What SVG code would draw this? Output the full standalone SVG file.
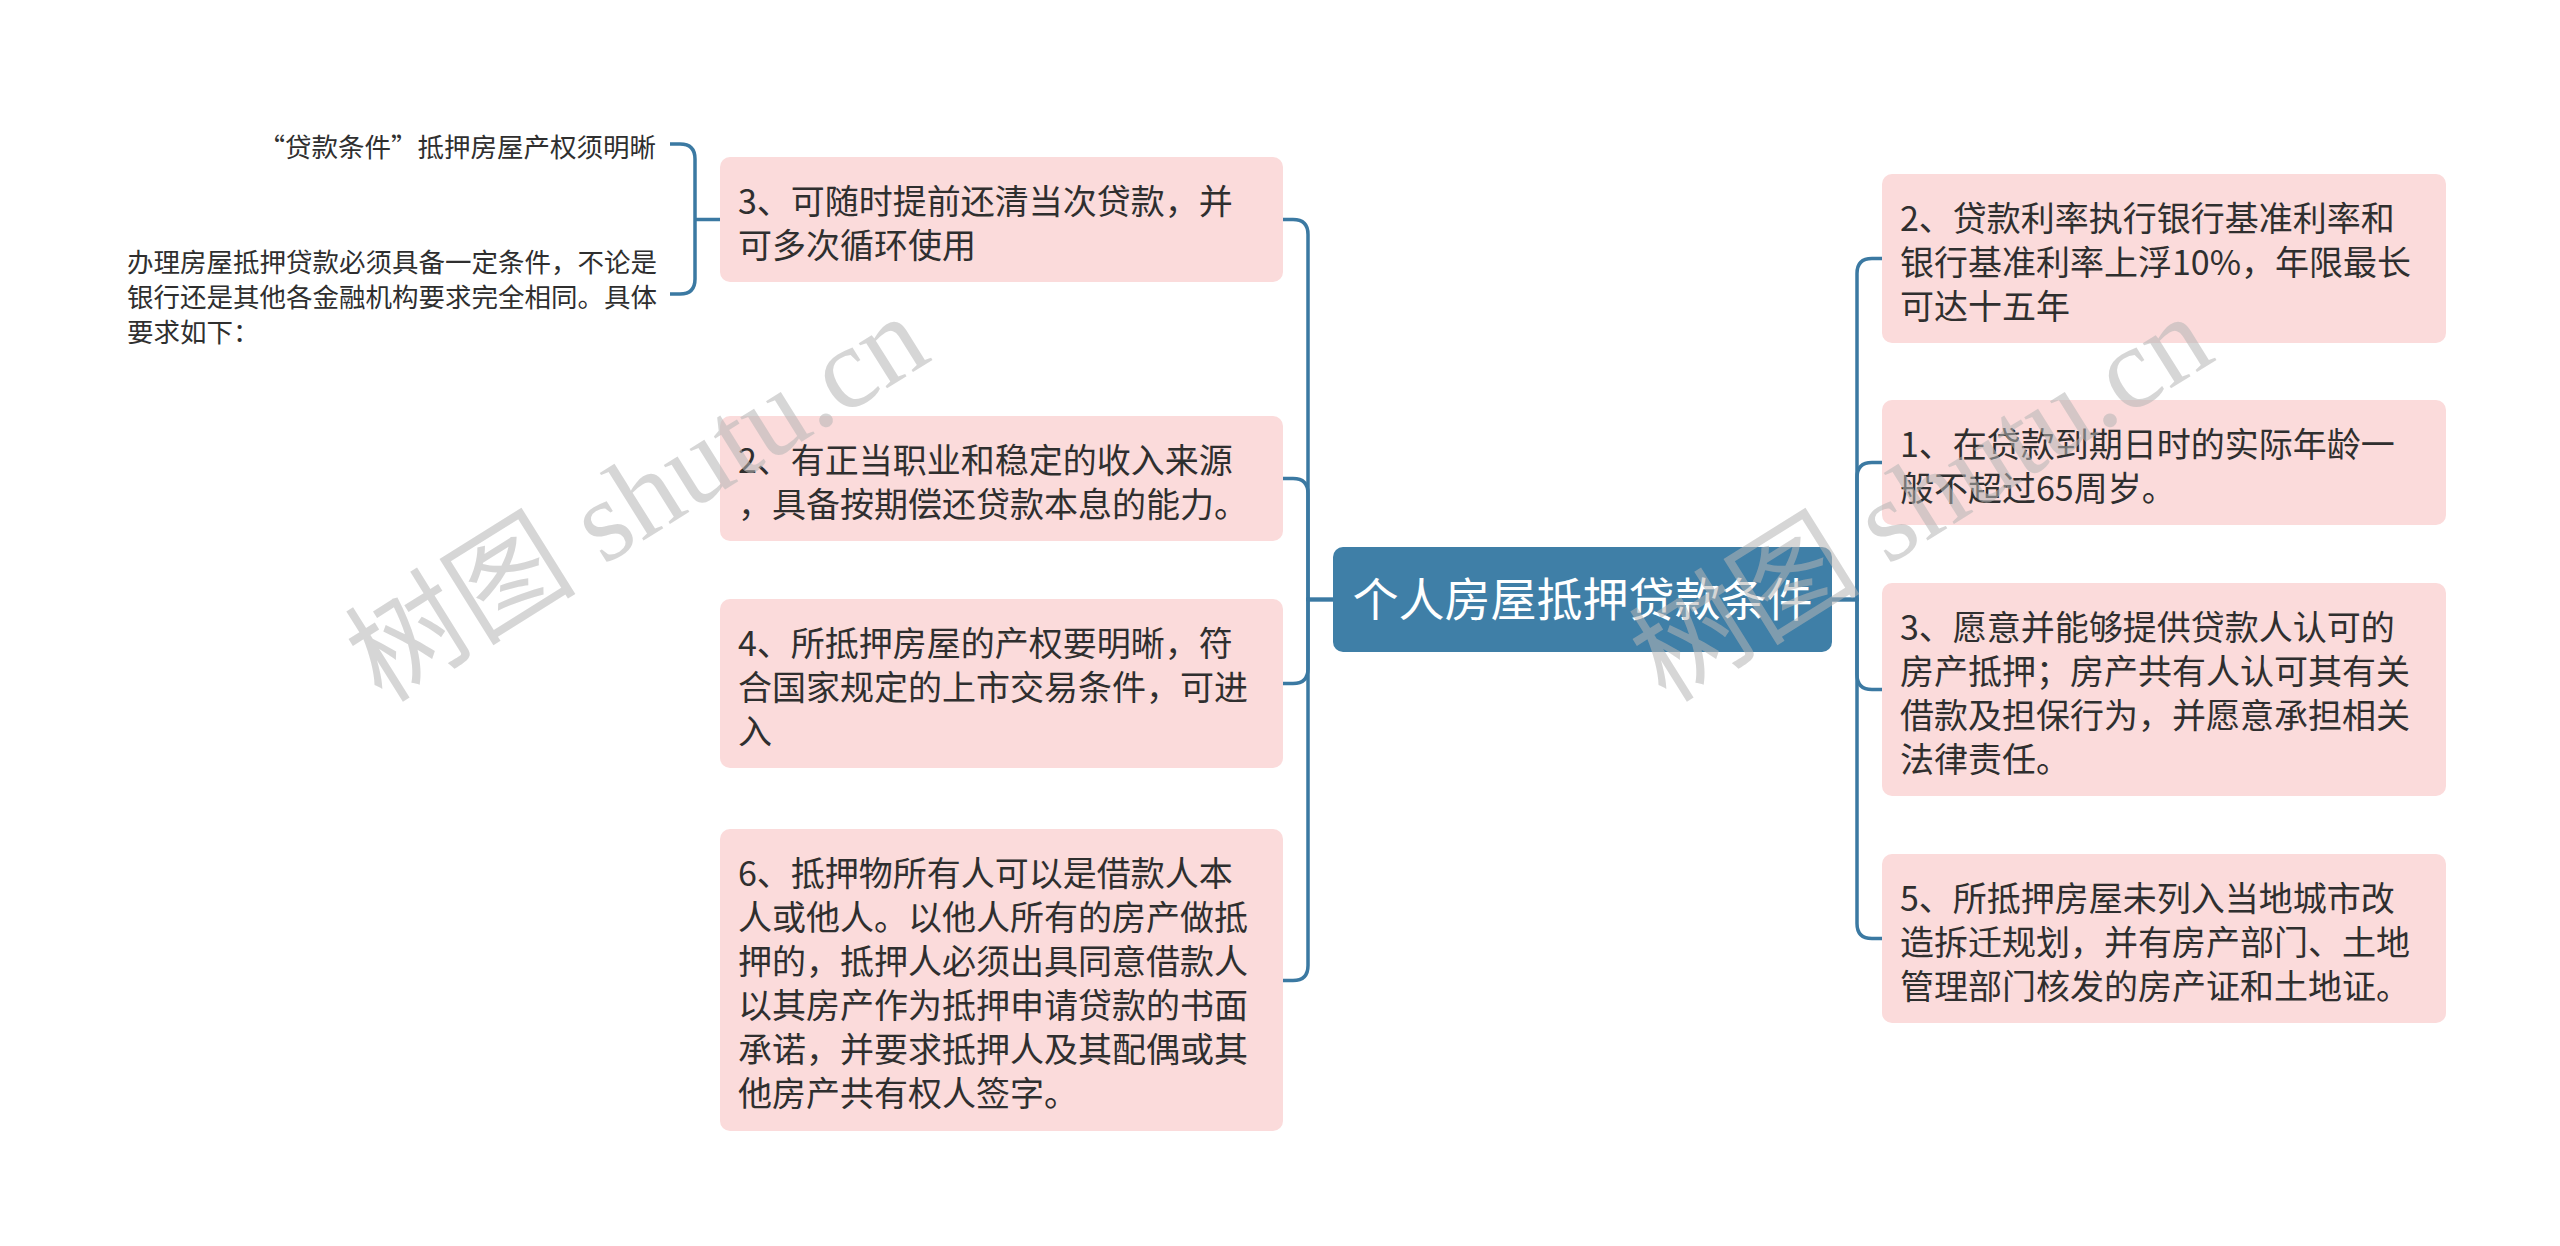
<svg xmlns="http://www.w3.org/2000/svg" width="2560" height="1246" viewBox="0 0 2560 1246">
<style>
.node{fill:#fbdbdb;}
.t{font-family:"Noto Sans CJK SC","Noto Sans",sans-serif;font-size:34px;fill:#2f2f2f;}
.s{font-family:"Noto Sans CJK SC","Noto Sans",sans-serif;font-size:26.5px;fill:#2f2f2f;}
.c{font-family:"Noto Sans CJK SC","Noto Sans",sans-serif;font-size:46px;fill:#ffffff;}
.ln{fill:none;stroke:#3b79a2;stroke-width:3.5;}
.wm{font-family:"Liberation Serif","Noto Sans CJK SC",serif;font-size:116px;fill:#b4b4b4;fill-opacity:0.55;}
</style>
<rect width="2560" height="1246" fill="#ffffff"/>
<g id="connectors" class="ln">
<path d="M1333 599.5 H1308 V234.5 Q1308 219.5 1293 219.5 H1283"/>
<path d="M1333 599.5 H1308 V493.5 Q1308 478.5 1293 478.5 H1283"/>
<path d="M1333 599.5 H1308 V668.5 Q1308 683.5 1293 683.5 H1283"/>
<path d="M1333 599.5 H1308 V965.5 Q1308 980.5 1293 980.5 H1283"/>
<path d="M1832 599.5 H1857 V273.5 Q1857 258.5 1872 258.5 H1882"/>
<path d="M1832 599.5 H1857 V477.5 Q1857 462.5 1872 462.5 H1882"/>
<path d="M1832 599.5 H1857 V674.5 Q1857 689.5 1872 689.5 H1882"/>
<path d="M1832 599.5 H1857 V923.5 Q1857 938.5 1872 938.5 H1882"/>
<path d="M720 219.5 H695"/>
<path d="M670 144 H680 Q695 144 695 159 V279 Q695 294 680 294 H670"/>
</g>
<g id="center">
<rect x="1333" y="547" width="499" height="105" rx="10" fill="#3f7fa7"/>
<text class="c" x="1582.5" y="616" text-anchor="middle">个人房屋抵押贷款条件</text>
</g>
<g id="L1">
<rect class="node" x="720" y="157" width="563" height="125" rx="10"/>
<text class="t" x="738"><tspan x="738" y="214">3、可随时提前还清当次贷款，并</tspan><tspan x="738" y="258">可多次循环使用</tspan></text>
</g>
<g id="L1a">
<text class="s" x="656" y="157" text-anchor="end">“贷款条件”抵押房屋产权须明晰</text>
</g>
<g id="L1b">
<text class="s"><tspan x="127" y="272">办理房屋抵押贷款必须具备一定条件，不论是</tspan><tspan x="127" y="307">银行还是其他各金融机构要求完全相同。具体</tspan><tspan x="127" y="342">要求如下：</tspan></text>
</g>
<g id="L2">
<rect class="node" x="720" y="416" width="563" height="125" rx="10"/>
<text class="t"><tspan x="738" y="473">2、有正当职业和稳定的收入来源</tspan><tspan x="738" y="517">，具备按期偿还贷款本息的能力。</tspan></text>
</g>
<g id="L3">
<rect class="node" x="720" y="599" width="563" height="169" rx="10"/>
<text class="t"><tspan x="738" y="656">4、所抵押房屋的产权要明晰，符</tspan><tspan x="738" y="700">合国家规定的上市交易条件，可进</tspan><tspan x="738" y="744">入</tspan></text>
</g>
<g id="L4">
<rect class="node" x="720" y="829" width="563" height="302" rx="10"/>
<text class="t"><tspan x="738" y="886">6、抵押物所有人可以是借款人本</tspan><tspan x="738" y="930">人或他人。以他人所有的房产做抵</tspan><tspan x="738" y="974">押的，抵押人必须出具同意借款人</tspan><tspan x="738" y="1018">以其房产作为抵押申请贷款的书面</tspan><tspan x="738" y="1062">承诺，并要求抵押人及其配偶或其</tspan><tspan x="738" y="1106">他房产共有权人签字。</tspan></text>
</g>
<g id="R1">
<rect class="node" x="1882" y="174" width="564" height="169" rx="10"/>
<text class="t"><tspan x="1900" y="231">2、贷款利率执行银行基准利率和</tspan><tspan x="1900" y="275">银行基准利率上浮10%，年限最长</tspan><tspan x="1900" y="319">可达十五年</tspan></text>
</g>
<g id="R2">
<rect class="node" x="1882" y="400" width="564" height="125" rx="10"/>
<text class="t"><tspan x="1900" y="457">1、在贷款到期日时的实际年龄一</tspan><tspan x="1900" y="501">般不超过65周岁。</tspan></text>
</g>
<g id="R3">
<rect class="node" x="1882" y="583" width="564" height="213" rx="10"/>
<text class="t"><tspan x="1900" y="640">3、愿意并能够提供贷款人认可的</tspan><tspan x="1900" y="684">房产抵押；房产共有人认可其有关</tspan><tspan x="1900" y="728">借款及担保行为，并愿意承担相关</tspan><tspan x="1900" y="772">法律责任。</tspan></text>
</g>
<g id="R4">
<rect class="node" x="1882" y="854" width="564" height="169" rx="10"/>
<text class="t"><tspan x="1900" y="911">5、所抵押房屋未列入当地城市改</tspan><tspan x="1900" y="955">造拆迁规划，并有房产部门、土地</tspan><tspan x="1900" y="999">管理部门核发的房产证和土地证。</tspan></text>
</g>
<g id="watermark">
<text class="wm" transform="translate(382 704) rotate(-32)">树图 shutu.cn</text>
<text class="wm" transform="translate(1666 704) rotate(-32)">树图 shutu.cn</text>
</g>
</svg>
